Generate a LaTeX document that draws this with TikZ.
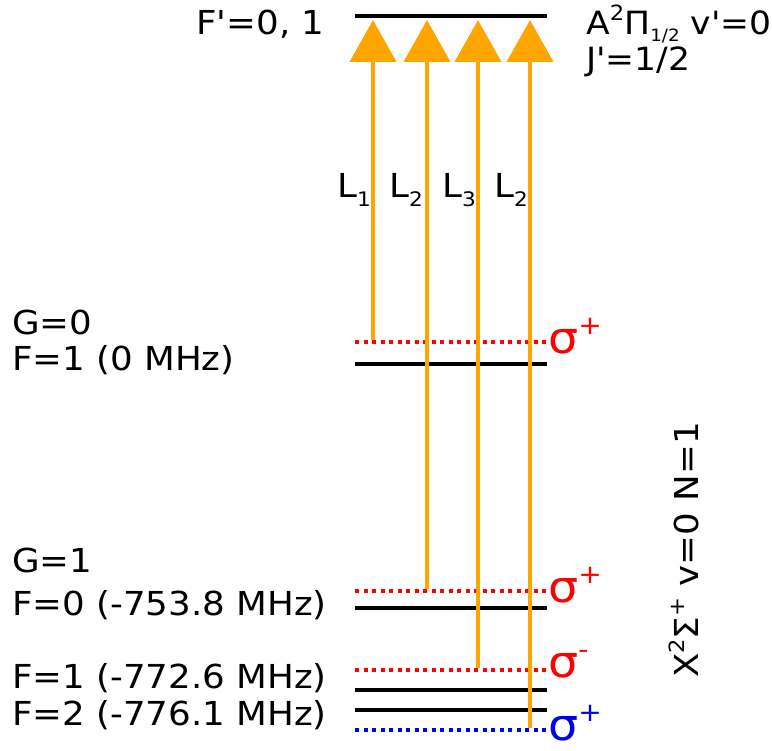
\documentclass[tikz,border=0pt]{standalone}
\usepackage{fontspec}
\usetikzlibrary{arrows.meta}
\newfontfamily\vf{DejaVu Sans}[FakeStretch=1.08]
\newcommand{\sps}[1]{\raisebox{0.45em}{\fontsize{21}{21}\selectfont #1}}
\newcommand{\sbs}[1]{\raisebox{-0.28em}{\fontsize{20}{20}\selectfont #1}}
\newcommand{\sbt}[1]{\raisebox{-0.22em}{\fontsize{17}{17}\selectfont #1}}
\newcommand{\ssp}[1]{\raisebox{0.42em}{\fontsize{26}{26}\selectfont #1}}
\definecolor{orng}{HTML}{FFA500}
\definecolor{myblue}{HTML}{0000EE}
\tikzset{
  lbl/.style={font=\vf\fontsize{33}{39}\selectfont, inner sep=0pt, anchor=west},
  sig/.style={font=\vf\fontsize{44}{46}\selectfont, inner sep=0pt, anchor=west},
  level/.style={line width=4pt, black},
  dotr/.style={line width=4pt, red, dash pattern=on 4pt off 4.5pt},
  dotb/.style={line width=4pt, myblue, dash pattern=on 4pt off 4.5pt},
  laser/.style={line width=4.5pt, orng, -{Triangle[width=46pt,length=42pt]}}
}
\begin{document}
\begin{tikzpicture}[x=1pt,y=-1pt]
\useasboundingbox (0,0) rectangle (772,751);
% levels
\draw[level] (355,16) -- (547,16);
\draw[dotr] (355,342) -- (547,342);
\draw[level] (355,364) -- (547,364);
\draw[dotr] (355,591) -- (547,591);
\draw[level] (355,608) -- (547,608);
\draw[dotr] (355,670) -- (547,670);
\draw[level] (355,690) -- (547,690);
\draw[level] (355,710) -- (547,710);
\draw[dotb] (355,730) -- (547,730);
% arrow coordinates
\coordinate (a1) at (373,340); \coordinate (b1) at (373,20);
\coordinate (a2) at (427,589); \coordinate (b2) at (427,20);
\coordinate (a3) at (478,668); \coordinate (b3) at (478,20);
\coordinate (a4) at (530,728); \coordinate (b4) at (530,20);
\draw[laser] (a1) -- (b1);
\draw[laser] (a2) -- (b2);
\draw[laser] (a3) -- (b3);
\draw[laser] (a4) -- (b4);
% laser labels
\node[lbl] (l1) at (337,190) {L\sbs{1}};
\node[lbl] (l2) at (389,190) {L\sbs{2}};
\node[lbl] (l3) at (442,190) {L\sbs{3}};
\node[lbl] (l4) at (494,190) {L\sbs{2}};
% upper state labels
\node[lbl] (fp) at (196,24) {F'=0, 1};
\node[lbl, font=\vf\fontsize{32}{38}\selectfont] (ast) at (586,24) {A\sps{2}Π\sbt{1/2} v'=0};
\node[lbl, font=\vf\fontsize{32}{38}\selectfont] (jp) at (586,62) {J'=1/2};
% ground state labels
\node[lbl] (g0) at (12,322) {G=0};
\node[lbl] (f1a) at (12,360) {F=1 (0 MHz)};
\node[lbl] (g1) at (12,560) {G=1};
\node[lbl] (f0) at (12,605) {F=0 (-753.8 MHz)};
\node[lbl] (f1b) at (12,678) {F=1 (-772.6 MHz)};
\node[lbl] (f2) at (12,715) {F=2 (-776.1 MHz)};
% polarisations
\node[sig, red] (s1) at (548,336) {σ\ssp{+}};
\node[sig, red] (s2) at (548,585) {σ\ssp{+}};
\node[sig, red] (s3) at (548,664) {σ\ssp{-}};
\node[sig, myblue] (s4) at (548,723) {σ\ssp{+}};
% rotated label
\node[lbl, anchor=center, rotate=90] (xs) at (684,550) {X\sps{2}Σ\sps{+} v=0 N=1};
\end{tikzpicture}
\end{document}
